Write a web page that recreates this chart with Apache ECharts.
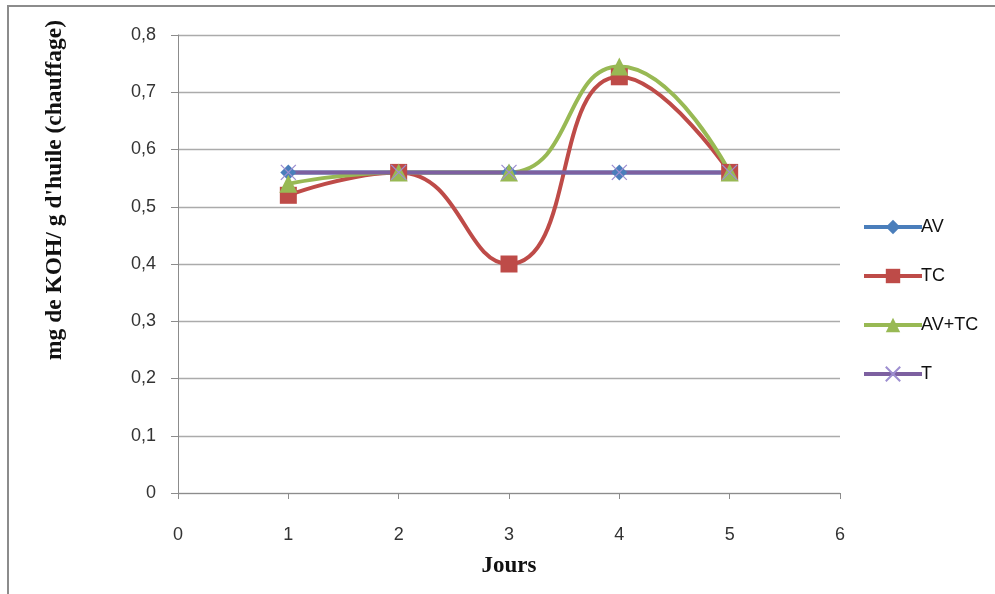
<!DOCTYPE html>
<html>
<head>
<meta charset="utf-8">
<script src="https://cdn.jsdelivr.net/npm/echarts@6/dist/echarts.min.js"></script>
<style>
  html, body { margin: 0; padding: 0; background: #fff; }
  #chart { width: 995px; height: 594px; }
</style>
</head>
<body>
<div id="chart"></div>
<script>
// Days of measurement
const days = [1, 2, 3, 4, 5];
// Acidity values (mg KOH / g oil) per treatment
const avValues = [0.56, 0.56, 0.56, 0.56, 0.56];
const tcValues = [0.52, 0.56, 0.40, 0.727, 0.56];
const avTcValues = [0.54, 0.56, 0.56, 0.745, 0.56];
const tValues = [0.56, 0.56, 0.56, 0.56, 0.56];
const seriesNames = ['AV', 'TC', 'AV+TC', 'T'];
const yAxisTitle = "mg de KOH/ g d'huile (chauffage)";
const xAxisTitle = 'Jours';

const pairs = vals => days.map((d, i) => [d, vals[i]]);
const crossPath = 'path://M0,0L10,10M10,0L0,10';

const chart = echarts.init(document.getElementById('chart'));
const labelFont = { fontFamily: 'Liberation Sans, Arial, sans-serif', fontSize: 18, color: '#333' };

function lineSeries(name, vals, color, symbol, size, extraItem) {
  return {
    name: name,
    type: 'line',
    data: pairs(vals),
    smooth: 0.5,
    symbol: symbol,
    symbolSize: size,
    showAllSymbol: true,
    lineStyle: { color: color, width: 4 },
    itemStyle: Object.assign({ color: color }, extraItem || {}),
    emphasis: { disabled: true },
    animation: false
  };
}

chart.setOption({
  animation: false,
  grid: { left: 178, right: 155, top: 35, bottom: 101 },
  graphic: [{
    type: 'rect',
    shape: { x: 8, y: 6, width: 1000, height: 600 },
    style: { fill: 'none', stroke: '#8c8c8c', lineWidth: 2 },
    silent: true
  }, {
    type: 'text',
    x: 55, y: 190,
    rotation: Math.PI / 2,
    style: {
      text: yAxisTitle,
      font: 'bold 23.5px "Liberation Serif", "Times New Roman", serif',
      fill: '#111',
      align: 'center',
      verticalAlign: 'middle'
    },
    silent: true
  }],
  legend: {
    orient: 'vertical',
    left: 857,
    top: 213,
    itemWidth: 58,
    itemHeight: 18,
    itemGap: 31,
    lineStyle: { width: 4 },
    textStyle: { fontFamily: 'Liberation Sans, Arial, sans-serif', fontSize: 18, color: '#111', padding: [0, 0, 0, -6] },
    data: seriesNames
  },
  xAxis: {
    type: 'value',
    min: 0, max: 6, interval: 1,
    name: xAxisTitle,
    nameLocation: 'middle',
    nameGap: 62,
    nameTextStyle: { fontFamily: 'Liberation Serif, Times New Roman, serif', fontWeight: 'bold', fontSize: 23, color: '#111' },
    axisLine: { show: true, onZero: false, lineStyle: { color: '#8c8c8c', width: 1 } },
    axisTick: { show: true, length: 6, lineStyle: { color: '#8c8c8c' } },
    axisLabel: Object.assign({ margin: 33 }, labelFont),
    splitLine: { show: false }
  },
  yAxis: {
    type: 'value',
    min: 0, max: 0.8, interval: 0.1,
    axisLine: { show: true, lineStyle: { color: '#8c8c8c', width: 1 } },
    axisTick: { show: true, length: 7, lineStyle: { color: '#8c8c8c' } },
    axisLabel: Object.assign({ margin: 22, formatter: v => String(Math.round(v * 10) / 10).replace('.', ',') }, labelFont),
    splitLine: { show: true, lineStyle: { color: '#ababab', width: 1.3 } }
  },
  series: [
    lineSeries('AV', avValues, '#4a7ebb', 'diamond', 16),
    lineSeries('TC', tcValues, '#be4b48', 'rect', 17),
    lineSeries('AV+TC', avTcValues, '#98b954', 'triangle', 18),
    lineSeries('T', tValues, '#7d60a0', crossPath, 15, { color: 'rgba(0,0,0,0)', borderColor: '#9d8ed0', borderWidth: 1.3 })
  ]
});
</script>
</body>
</html>
